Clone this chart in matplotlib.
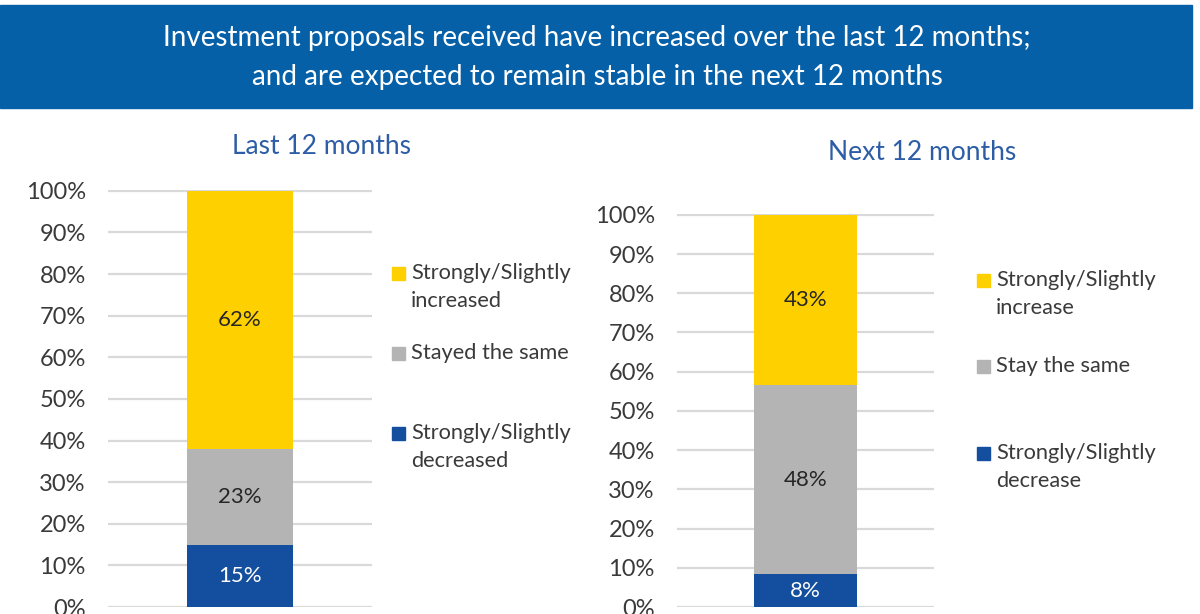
import matplotlib.pyplot as plt
from matplotlib.patches import Rectangle

plt.rcParams['font.family'] = ['Lato', 'DejaVu Sans']

W, H = 1200, 614

title_lines = ["Investment proposals received have increased over the last 12 months;",
               "and are expected to remain stable in the next 12 months"]
panel_titles = ["Last 12 months", "Next 12 months"]

# shares stacked from bottom to top: decrease, same, increase
last_values = [0.15, 0.23, 0.62]
next_values = [0.084, 0.481, 0.434]
last_labels = ["Strongly/Slightly\ndecreased", "Stayed the same", "Strongly/Slightly\nincreased"]
next_labels = ["Strongly/Slightly\ndecrease", "Stay the same", "Strongly/Slightly\nincrease"]

colors = ["#134F9E", "#B4B4B4", "#FFD000"]
value_colors = ["white", "#262626", "#262626"]
tick_color = "#3A3A3A"
blue_title = "#2C5DA6"


def fx(px):
    return px / W


def fy(py):
    return 1 - py / H


fig = plt.figure(figsize=(12, 6.14), dpi=100)

# header banner
fig.patches.append(Rectangle((0, fy(108)), fx(1192), (108 - 5) / H,
                             transform=fig.transFigure, color="#0560A8", zorder=0))
fig.text(fx(597), fy(38), title_lines[0], color="white", fontsize=20, ha="center", va="center")
fig.text(fx(597), fy(77), title_lines[1], color="white", fontsize=20, ha="center", va="center")


def draw_panel(values, labels, rect, title, title_xy, legend_x, legend_y):
    ax = fig.add_axes(rect)
    bottom = 0
    for v, c, tc in zip(values, colors, value_colors):
        ax.bar(0, v, width=0.4, bottom=bottom, color=c, zorder=3)
        ax.text(0, bottom + v / 2, f"{round(v * 100)}%", ha="center", va="center",
                color=tc, fontsize=16, zorder=4)
        bottom += v
    ax.set_xlim(-0.5, 0.5)
    ax.set_ylim(0, 1.002)
    ax.set_yticks([i / 10 for i in range(11)])
    ax.set_yticklabels([f"{i * 10}%" for i in range(11)])
    ax.tick_params(axis="y", length=0, pad=16, labelsize=17, labelcolor=tick_color)
    ax.set_xticks([])
    ax.grid(axis="y", color="#D9D9D9", linewidth=1.6, zorder=0)
    for s in ax.spines.values():
        s.set_visible(False)

    fig.text(fx(title_xy[0]), fy(title_xy[1]), title, color=blue_title, fontsize=19,
             ha="center", va="center")

    # legend: top entry is the last stacked series
    for lab, c, ly in zip(labels[::-1], colors[::-1], legend_y):
        fig.patches.append(Rectangle((fx(legend_x), fy(ly + 7)), fx(13), 13 / H,
                                     transform=fig.transFigure, color=c))
        fig.text(fx(legend_x + 19), fy(ly - 10), lab, color=tick_color, fontsize=15.7,
                 ha="left", va="top", linespacing=1.5)
    return ax


draw_panel(last_values, last_labels,
           [fx(108), fy(607), fx(372 - 108), (607 - 190) / H],
           panel_titles[0], (321, 147), 392, [273, 353, 433])
draw_panel(next_values, next_labels,
           [fx(677), fy(607), fx(934 - 677), (607 - 214) / H],
           panel_titles[1], (922, 153), 977, [280, 366, 453])

fig.savefig("out.png", dpi=100)
